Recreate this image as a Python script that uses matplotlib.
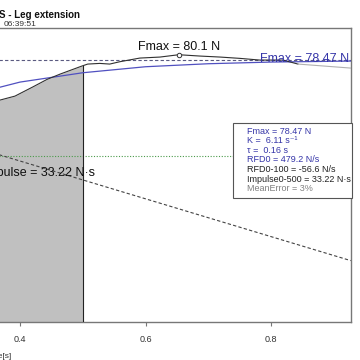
#!/usr/bin/env python3

import matplotlib
matplotlib.use('Agg')
import matplotlib.pyplot as plt
from matplotlib.patches import Rectangle

plt.rcParams['font.family'] = ['Liberation Sans', 'DejaVu Sans']

# raw force curve (time in s, force in N)
raw_t = [0.0, 0.1, 0.2, 0.3, 0.368, 0.392, 0.421, 0.443, 0.464, 0.5, 0.508,
         0.527, 0.543, 0.559, 0.591, 0.623, 0.653, 0.687, 0.719, 0.751,
         0.782, 0.819, 0.843]
raw_f = [70.9, 65.2, 64.0, 65.0, 66.5, 67.7, 70.5, 72.7, 74.3, 76.8, 77.3,
         77.5, 77.3, 78.0, 79.1, 79.4, 80.1, 79.7, 79.4, 79.0,
         78.5, 78.5, 77.3]
tail_t = [0.843, 0.927]
tail_f = [77.3, 76.1]

# fitted model curve
model_t = [0.0, 0.05, 0.1, 0.15, 0.2, 0.25, 0.3, 0.35, 0.4, 0.5, 0.6, 0.7, 0.8, 0.927]
model_f = [0.0, 20.8, 36.1, 47.4, 55.7, 61.8, 66.2, 69.5, 71.9, 74.7, 76.5, 77.4, 77.9, 78.2]

# RFD 0-100 tangent line
rfd_t = [0.0, 0.927]
rfd_f = [70.9, 18.4]

fmax_model = 78.47
fmax_raw = 80.1
t_fmax_raw = 0.653
tau_level = 49.6
impulse_end = 0.5

x_ticks = [0.4, 0.6, 0.8]

legend_lines = ['Fmax = 78.47 N', 'K =  6.11 s\u207b\u00b9', '\u03c4 =  0.16 s',
                'RFD0 = 479.2 N/s', 'RFD0-100 = -56.6 N/s',
                'Impulse0-500 = 33.22 N\u00b7s', 'MeanError = 3%']
blue = '#3535a8'
legend_colors = [blue, blue, blue, blue, '#222222', '#222222', '#808080']

W = 360.0


def fx(px):
    return px / W


def fy(py):
    return 1 - py / W


fig = plt.figure(figsize=(3.6, 3.6), dpi=100)
# the chart is cropped: the axes extend off the left edge of the image
ax = fig.add_axes([fx(-231), fy(322), (350.7 + 231) / W, (322 - 28) / W])
ax.set_xlim(0, 0.927)
ax.set_ylim(0, 88.11)

# impulse area
imp_t = [t for t in raw_t if t <= impulse_end]
imp_f = raw_f[:len(imp_t)]
ax.fill_between(imp_t, imp_f, 0, color='#c0c0c0', linewidth=0, zorder=1)
ax.plot([impulse_end, impulse_end], [0, imp_f[-1]], color='#222222', lw=0.8, zorder=3)

ax.axhline(tau_level, color='#4a9a4a', lw=0.8, ls=(0, (1, 1.5)), zorder=2)
ax.axhline(fmax_model, color='#5a5a80', lw=0.8, ls=(0, (3, 2)), zorder=2)
ax.plot(rfd_t, rfd_f, color='#444444', lw=0.8, ls=(0, (3, 2)), zorder=2)

ax.plot(model_t, model_f, color='#5050c0', lw=0.9, zorder=3)
ax.plot(raw_t, raw_f, color='#303030', lw=0.8, zorder=4)
ax.plot(tail_t, tail_f, color='#b0b0b0', lw=0.8, zorder=4)
ax.plot([t_fmax_raw], [fmax_raw], 'o', ms=3.2, mfc='white', mec='#333333', mew=0.7, zorder=5)

ax.text(t_fmax_raw, fmax_raw + 0.4, 'Fmax = %.1f N' % fmax_raw, ha='center', va='bottom',
        fontsize=9, color='#111111', zorder=6)
ax.text(0.925, fmax_model - 0.5, 'Fmax = %.2f N' % fmax_model, ha='right', va='baseline',
        fontsize=9, color=blue, zorder=6)
fig.text(fx(95), fy(173), 'Impulse = 33.22 N\u00b7s', ha='right', va='center',
         fontsize=9, color='#111111')

for s in ax.spines.values():
    s.set_color('#777777')
    s.set_linewidth(1.0)
ax.set_xticks(x_ticks)
ax.set_xticklabels([str(x) for x in x_ticks])
ax.tick_params(axis='x', length=3, width=0.8, color='#777777', labelsize=6.5,
               labelcolor='#333333', pad=6)
ax.set_yticks([])

# legend box
fig.add_artist(Rectangle((fx(232.7), fy(198)), (351.7 - 232.7) / W, (198 - 123.3) / W,
                         transform=fig.transFigure, facecolor='white',
                         edgecolor='#555555', lw=0.8, zorder=10))
for i, (txt, col) in enumerate(zip(legend_lines, legend_colors)):
    fig.text(fx(247), fy(131.5 + 9.5 * i), txt, ha='left', va='center',
             fontsize=6.5, color=col, zorder=11)

fig.text(fx(80), fy(15), 'S - Leg extension', ha='right', va='center',
         fontsize=7, fontweight='bold', color='#111111')
fig.text(fx(37), fy(24), '06:39:51', ha='right', va='center', fontsize=6, color='#333333')
fig.text(fx(12), fy(356), 'Time[s]', ha='right', va='center', fontsize=6, color='#333333')

fig.savefig('out.png', dpi=100)
